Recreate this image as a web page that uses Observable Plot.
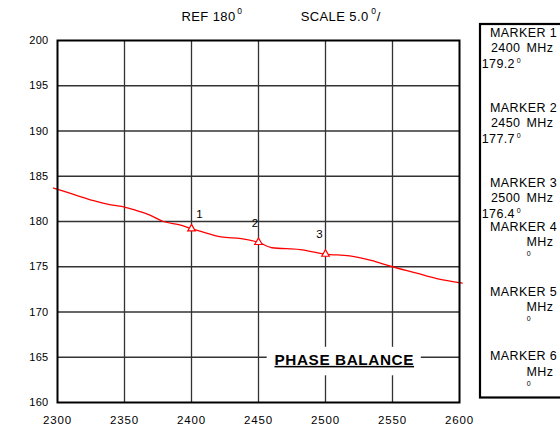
<!DOCTYPE html>
<html><head><meta charset="utf-8">
<script src="https://cdn.jsdelivr.net/npm/d3@7"></script>
<script src="https://cdn.jsdelivr.net/npm/@observablehq/plot@0.6"></script>
<style>
body{margin:0;background:#fff;}
#chart svg{font-family:"Liberation Sans",Arial,Helvetica,sans-serif;}
#chart [font-weight="bold"] text{text-decoration:underline;text-decoration-thickness:1.6px;text-underline-offset:2px;letter-spacing:0.6px;}
#chart g[aria-label="x-axis tick label"] text{letter-spacing:0.8px;}
#chart g[aria-label="y-axis tick label"] text{letter-spacing:0.3px;}
#chart .panel text{letter-spacing:0.4px;}
</style></head><body><div id="chart"></div>
<script>
// ---- data ----
const freqs = [2297,2312,2327,2341,2350,2359,2369,2379,2392,2400,2407,2422,2437,2450,2460,2481,2500,2518,2534,2550,2568,2583,2602];
const phase = [183.7,183.0,182.3,181.8,181.6,181.2,180.7,180.0,179.6,179.2,178.9,178.3,178.1,177.7,177.1,176.9,176.4,176.2,175.7,175.0,174.3,173.7,173.2];
const markerFreqs = [2400,2450,2500];
const markerValues = [179.2,177.7,176.4];
const markerLabels = ["1","2","3"];
const xTicks = [2300,2350,2400,2450,2500,2550,2600];
const yTicks = [160,165,170,175,180,185,190,195,200];
const boxNames = ["MARKER 1","MARKER 2","MARKER 3","MARKER 4","MARKER 5","MARKER 6"];
const boxFreqs = ["2400","2450","2500","","",""];
const boxValues = ["179.2","177.7","176.4","","",""];
const headerRef = "REF 180";
const headerScale = "SCALE 5.0";
const titleLabel = "PHASE BALANCE";
const titleFreq = 2514;
const titleValue = 164.7;

// ---- build ----
const curve = freqs.map((f,i)=>({f, v: phase[i]}));
const markers = markerFreqs.map((f,i)=>({f, v: markerValues[i], label: markerLabels[i]}));
const labelOffsets = [[8,-14],[-3.5,-19],[-6,-20]];
const titleBox = [{x1: titleFreq-57.5, x2: titleFreq+57.5, y1: titleValue-1.75, y2: titleValue+1.4}];

const svg = Plot.plot({
  width: 560, height: 425,
  marginLeft: 57, marginRight: 101, marginTop: 40, marginBottom: 23,
  style: {fontSize: "11px", fontFamily: "Liberation Sans, Arial, sans-serif", color: "black", background: "white"},
  x: {domain: [2300, 2600]},
  y: {domain: [160, 200]},
  marks: [
    Plot.gridX(xTicks.slice(1,-1), {stroke: "#333", strokeOpacity: 1, strokeWidth: 1.3}),
    Plot.gridY(yTicks.slice(1,-1), {stroke: "#333", strokeOpacity: 1, strokeWidth: 1.3}),
    Plot.rect(titleBox, {x1: "x1", x2: "x2", y1: "y1", y2: "y2", fill: "white"}),
    Plot.text([titleLabel], {x: titleFreq, y: titleValue, text: d=>d, fontSize: 15.3, fontWeight: "bold", fill: "black"}),
    Plot.axisX(xTicks, {tickSize: 0, tickPadding: 13, fontSize: 11.5, label: null, tickFormat: d => String(d)}),
    Plot.axisY(yTicks, {tickSize: 0, tickPadding: 9, fontSize: 11, label: null, tickFormat: d => String(d)}),
    Plot.line(curve, {x: "f", y: "v", stroke: "#ff0000", strokeWidth: 1.3, curve: "monotone-x"}),
    Plot.dot(markers, {x: "f", y: "v", symbol: "triangle", r: 2.8, stroke: "#ff0000", fill: "white", strokeWidth: 1.2}),
    ...markers.map((m,i)=>Plot.text([m], {x: "f", y: "v", text: "label", dx: labelOffsets[i][0], dy: labelOffsets[i][1], fontSize: 11.5, fill: "black"})),
    Plot.frame({stroke: "black", strokeWidth: 2})
  ]
});

// header and marker panel
const s = d3.select(svg);
const hdr = s.append("g").attr("class","panel").attr("font-size", 13).attr("fill","black").attr("text-anchor","start");
const t1 = hdr.append("text").attr("y", 20.7);
t1.append("tspan").attr("x", 181.5).text(headerRef);
t1.append("tspan").attr("x", 237.3).attr("y", 14).attr("font-size", 8.5).text("0");
const t2 = hdr.append("text").attr("y", 20.7);
t2.append("tspan").attr("x", 300.7).text(headerScale);
t2.append("tspan").attr("x", 371.2).attr("y", 14).attr("font-size", 8.5).text("0");
t2.append("tspan").attr("x", 376.7).attr("y", 20.7).text("/");

const panel = s.append("g").attr("class","panel").attr("fill","black").attr("text-anchor","start");
panel.append("rect").attr("x", 480).attr("y", 24).attr("width", 100).attr("height", 373.5)
  .attr("fill","white").attr("stroke","black").attr("stroke-width", 2.2);
const groupTops = [36.5, 111.5, 186.5, 230.7, 295.7, 360.3];
boxNames.forEach((name, i) => {
  const b = groupTops[i];
  const g = panel.append("g").attr("font-size", 12.5);
  g.append("text").attr("x", 490).attr("y", b).text(name);
  if (boxFreqs[i]) g.append("text").attr("x", 491).attr("y", b + 15.3).text(boxFreqs[i]);
  g.append("text").attr("x", 526.5).attr("y", b + 15.3).text("MHz");
  if (boxValues[i]) g.append("text").attr("x", 481.7).attr("y", b + 31).text(boxValues[i]);
  g.append("text").attr("x", boxValues[i] ? 516.8 : 526.8).attr("y", boxValues[i] ? b + 26.5 : b + 25.5)
    .attr("font-size", 7).text("0");
});

document.getElementById("chart").appendChild(svg);
</script></body></html>
